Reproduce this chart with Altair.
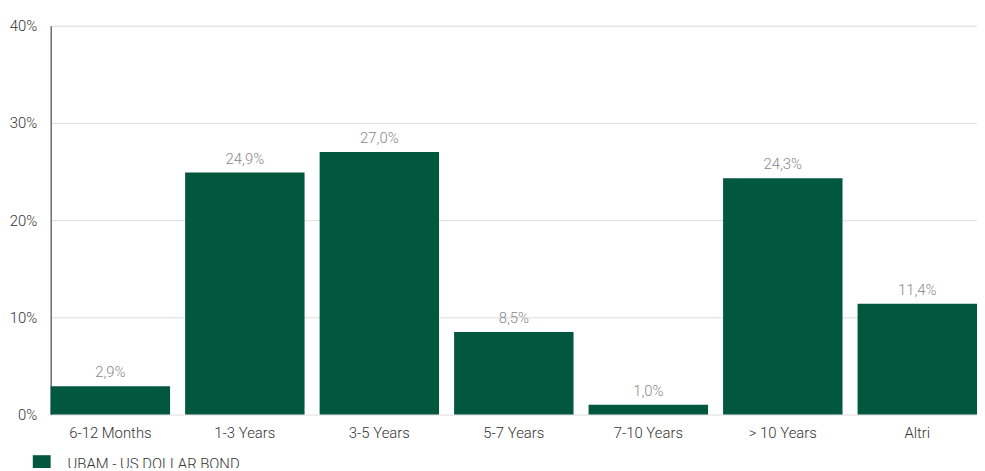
import altair as alt
import pandas as pd

categories = ["6-12 Months", "1-3 Years", "3-5 Years", "5-7 Years", "7-10 Years", "> 10 Years", "Altri"]
values = [2.9, 24.9, 27.0, 8.5, 1.0, 24.3, 11.4]
series_name = "UBAM - US DOLLAR BOND"
y_ticks = [0, 10, 20, 30, 40]

df = pd.DataFrame({
    "cat": categories,
    "val": values,
    "series": [series_name] * len(categories),
    "label": [f"{v:.1f}".replace(".", ",") + "%" for v in values],
})

FONT = "Roboto"
GREEN = "#02573F"
FS = 15

x = alt.X("cat:N", sort=categories, title=None,
          scale=alt.Scale(paddingInner=0.112, paddingOuter=0),
          axis=alt.Axis(labelAngle=0, labelFontSize=FS, labelColor="#333333", labelFont=FONT,
                        labelFontWeight=300, ticks=False, domain=False, labelPadding=11))

bars = alt.Chart(df).mark_bar().encode(
    x=x,
    y=alt.Y("val:Q", title=None,
            scale=alt.Scale(domain=[0, 40], nice=False),
            axis=alt.Axis(values=y_ticks, labelExpr="datum.value + '%'", labelFontSize=FS,
                          labelColor="#333333", labelFont=FONT, labelFontWeight=300,
                          ticks=False, labelPadding=14, domain=True, domainColor="#222222",
                          domainWidth=1, gridColor="#dddddd", gridWidth=1)),
    color=alt.Color("series:N", title=None,
                    scale=alt.Scale(domain=[series_name], range=[GREEN]),
                    legend=alt.Legend(orient="none", legendX=-18, legendY=433,
                                      symbolType="square", symbolSize=324, symbolStrokeWidth=0,
                                      labelFontSize=FS, labelColor="#333333", labelFont=FONT,
                                      labelFontWeight=300, labelOffset=17, labelLimit=0)),
)

text = alt.Chart(df).mark_text(dy=-14, fontSize=FS, color="#888888", font=FONT, fontWeight=300).encode(
    x=alt.X("cat:N", sort=categories),
    y="val:Q",
    text="label:N",
)

chart = (bars + text).properties(
    width=934, height=392,
    autosize=alt.AutoSizeParams(type="none"),
    padding={"left": 43, "top": 16, "right": 0, "bottom": 52},
).configure_view(stroke=None).configure_axisX(grid=False)

chart.save("out.html", embed_options={"renderer": "svg", "actions": False})
